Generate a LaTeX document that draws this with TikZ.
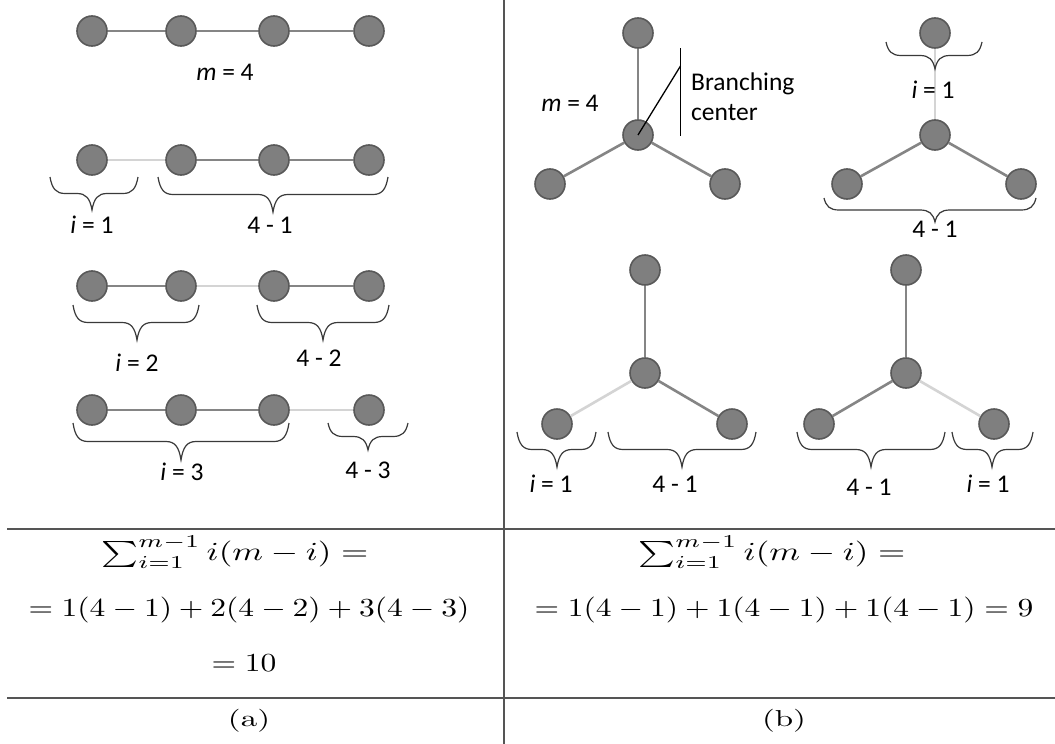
\documentclass[tikz,border=0pt]{standalone}
\usepackage{graphicx}
\usepackage{fontspec}
\newfontfamily\labfont{Carlito}
\definecolor{nodefill}{HTML}{7F7F7F}
\definecolor{nodeline}{HTML}{595959}
\definecolor{edgedark}{HTML}{858585}
\definecolor{edgelight}{HTML}{D4D4D4}
\definecolor{bracecol}{HTML}{3A3A3A}
\definecolor{rulecol}{HTML}{555555}
\tikzset{
  vtx/.style={circle, minimum size=30pt, inner sep=0pt, fill=nodefill, draw=nodeline, line width=1.6pt},
  ed/.style={draw=edgedark, line width=2.6pt},
  el/.style={draw=edgelight, line width=2.6pt},
  lbl/.style={font=\labfont\fontsize{25.5}{30}\selectfont, inner sep=0pt},
  brcs/.style={draw=bracecol, line width=1.2pt},
  rulel/.style={draw=rulecol, line width=1.2pt},
  pointer/.style={draw=black, line width=1.3pt},
  eq/.style={font=\normalsize, inner sep=0pt},
}
\newcommand\eqbox[1]{\scalebox{3.15}[2.6]{#1}}
\newcommand\sumbox[1]{\scalebox{3.5}[2.6]{#1}}
\newcommand\capbox[1]{\scalebox{3.3}[2.3]{#1}}
% brace pointing down: x1, x2, ytop, depth, xtip
\newcommand\bracedn[5]{%
  \draw[brcs] (#1,#3) .. controls ({#1+2},{#3+0.35*#4}) and ({#1+6},{#3+0.5*#4}) .. ({#1+15},{#3+0.5*#4})
    -- ({#5-15},{#3+0.5*#4}) .. controls ({#5-6},{#3+0.5*#4}) and ({#5-2},{#3+0.65*#4}) .. (#5,{#3+#4})
    .. controls ({#5+2},{#3+0.65*#4}) and ({#5+6},{#3+0.5*#4}) .. ({#5+15},{#3+0.5*#4})
    -- ({#2-15},{#3+0.5*#4}) .. controls ({#2-6},{#3+0.5*#4}) and ({#2-2},{#3+0.35*#4}) .. (#2,#3);}
\begin{document}
\begin{tikzpicture}[x=1pt, y=-1pt]
\fill[white] (0,0) rectangle (1055,744);
\useasboundingbox (0,0) rectangle (1055,744);

% table rules
\draw[rulel] (7,529) -- (1055,529);
\draw[rulel] (7,698) -- (1055,698);
\draw[rulel] (504,0) -- (504,744);

% ---------- (a) chains ----------
\foreach \r/\y in {a/31, b/160, c/286, d/410} {
  \node[vtx] (\r1) at (92,\y) {};
  \node[vtx] (\r2) at (181,\y) {};
  \node[vtx] (\r3) at (274,\y) {};
  \node[vtx] (\r4) at (369,\y) {};
}
\draw[ed] (a1) -- (a2); \draw[ed] (a2) -- (a3); \draw[ed] (a3) -- (a4);
\draw[el] (b1) -- (b2); \draw[ed] (b2) -- (b3); \draw[ed] (b3) -- (b4);
\draw[ed] (c1) -- (c2); \draw[el] (c2) -- (c3); \draw[ed] (c3) -- (c4);
\draw[ed] (d1) -- (d2); \draw[ed] (d2) -- (d3); \draw[el] (d3) -- (d4);

\node[lbl] (ma) at (225,72) {\itshape m\upshape{} = 4};

\bracedn{50}{138}{177}{33}{92}
\bracedn{158}{388}{177}{35}{273}
\node[lbl] (lb1) at (92,225) {\itshape i\upshape{} = 1};
\node[lbl] (lb2) at (270,225) {4 - 1};

\bracedn{73}{199}{305}{35}{137}
\bracedn{257}{389}{305}{35}{323}
\node[lbl] (lc1) at (137,363) {\itshape i\upshape{} = 2};
\node[lbl] (lc2) at (319,358) {4 - 2};

\bracedn{73}{289}{423}{37}{181}
\bracedn{328}{408}{423}{27}{368}
\node[lbl] (ld1) at (182,472) {\itshape i\upshape{} = 3};
\node[lbl] (ld2) at (368,470) {4 - 3};

% ---------- (b) stars ----------
\node[vtx] (s1t) at (638,33) {};
\node[vtx] (s1c) at (638,135) {};
\node[vtx] (s1l) at (550,184) {};
\node[vtx] (s1r) at (725,184) {};
\draw[ed] (s1t) -- (s1c); \draw[ed] (s1c) -- (s1l); \draw[ed] (s1c) -- (s1r);
\node[lbl] (mb) at (570,103) {\itshape m\upshape{} = 4};
\coordinate (bt) at (680.5,48);
\coordinate (bb) at (680.5,136);
\coordinate (bp) at (680.5,66);
\draw[pointer] (bt) -- (bb);
\draw[pointer] (s1c.center) -- (bp);
\node[lbl, anchor=west, align=left] (bc) at (691,97) {Branching\\center};

\node[vtx] (s2t) at (935,33) {};
\node[vtx] (s2c) at (935,135) {};
\node[vtx] (s2l) at (847,184) {};
\node[vtx] (s2r) at (1021,184) {};
\draw[el] (s2t) -- (s2c); \draw[ed] (s2c) -- (s2l); \draw[ed] (s2c) -- (s2r);
\bracedn{886}{982}{42}{27}{935}
\node[lbl] (l2a) at (933,90) {\itshape i\upshape{} = 1};
\bracedn{824}{1036}{198}{24}{935}
\node[lbl] (l2b) at (935,229) {4 - 1};

\node[vtx] (s3t) at (645,270) {};
\node[vtx] (s3c) at (645,373) {};
\node[vtx] (s3l) at (557,424) {};
\node[vtx] (s3r) at (732,424) {};
\draw[ed] (s3t) -- (s3c); \draw[el] (s3c) -- (s3l); \draw[ed] (s3c) -- (s3r);
\bracedn{517}{596}{432}{35}{557}
\bracedn{608}{756}{432}{35}{682}
\node[lbl] (l3a) at (551,484) {\itshape i\upshape{} = 1};
\node[lbl] (l3b) at (675,484) {4 - 1};

\node[vtx] (s4t) at (906,270) {};
\node[vtx] (s4c) at (906,373) {};
\node[vtx] (s4l) at (819,424) {};
\node[vtx] (s4r) at (994,424) {};
\draw[ed] (s4t) -- (s4c); \draw[ed] (s4c) -- (s4l); \draw[el] (s4c) -- (s4r);
\bracedn{797}{945}{432}{35}{871}
\bracedn{952}{1033}{432}{35}{992}
\node[lbl] (l4a) at (869,487) {4 - 1};
\node[lbl] (l4b) at (988,484) {\itshape i\upshape{} = 1};

% ---------- formulas ----------
\node[eq] (fa1) at (235,552) {\sumbox{$\textstyle\sum_{i=1}^{m-1} i(m-i) =$}};
\node[eq] (fa2) at (249,610) {\eqbox{$= 1(4-1) + 2(4-2) + 3(4-3)$}};
\node[eq] (fa3) at (244,663) {\eqbox{$= 10$}};
\node[eq] (capa) at (249,721) {\capbox{$(\mathrm{a})$}};
\node[eq] (fb1) at (772,552) {\sumbox{$\textstyle\sum_{i=1}^{m-1} i(m-i) =$}};
\node[eq] (fb2) at (784,610) {\eqbox{$= 1(4-1) + 1(4-1) + 1(4-1) = 9$}};
\node[eq] (capb) at (784,721) {\capbox{$(\mathrm{b})$}};
\end{tikzpicture}
\end{document}
